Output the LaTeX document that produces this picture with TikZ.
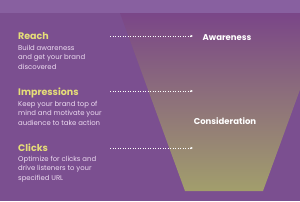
\documentclass[tikz,border=0pt]{standalone}
\usepackage{fontspec}
\setmainfont{Poppins}
\usetikzlibrary{arrows.meta}

\definecolor{bgpurple}{HTML}{7B4F90}
\definecolor{bandpurple}{HTML}{8860A0}
\definecolor{funtop}{HTML}{7A4688}
\definecolor{funmid}{HTML}{8A6C86}
\definecolor{funbot}{HTML}{A29E6C}
\definecolor{headyellow}{HTML}{E6DE78}
\definecolor{bodypink}{HTML}{EEDDF2}

\begin{document}
\begin{tikzpicture}[x=1pt, y=-1pt,
    head/.style={anchor=base west, inner sep=0pt, text=headyellow, font=\fontsize{9.5}{11}\selectfont\bfseries},
    body/.style={anchor=base west, inner sep=0pt, align=left, text=bodypink, font=\fontsize{6.9}{9.2}\selectfont},
    stage/.style={inner sep=0pt, text=white, font=\fontsize{8.5}{10}\selectfont\bfseries},
    lead/.style={draw=white, dotted, line width=0.5pt, -{Latex[length=2.5pt,width=2.5pt]}}]
    \useasboundingbox (0,0) rectangle (300,201);
    \clip (0,0) rectangle (300,201);

    % background and funnel
    \fill[bgpurple] (0,0) rectangle (300,201);
    \fill[bandpurple] (0,0) rectangle (300,13);
    \shade[top color=funtop, middle color=funmid, bottom color=funbot]
        (120,13) -- (328,13) -- (263,191) -- (185,191) -- cycle;

    % left column (body nodes sit on their last line)
    \node[head] (reach) at (18,39) {Reach};
    \node[body] (reachtxt) at (18,69) {Build awareness\\and get your brand\\discovered};
    \node[head] (impr) at (18,95) {Impressions};
    \node[body] (imprtxt) at (18,125) {Keep your brand top of\\mind and motivate your\\audience to take action};
    \node[head] (clicks) at (18,151) {Clicks};
    \node[body] (clickstxt) at (18,180) {Optimize for clicks and\\drive listeners to your\\specified URL};

    % funnel stages
    \node[stage] (aware) at (227,38) {Awareness};
    \node[stage] (consid) at (225,121) {Consideration};

    % dotted leaders
    \coordinate (reachfrom) at (110,36);
    \coordinate (reachto) at (193,36);
    \coordinate (imprfrom) at (110,91);
    \coordinate (imprto) at (193,91);
    \coordinate (clicksfrom) at (110,148);
    \coordinate (clicksto) at (193,148);
    \draw[lead] (reachfrom) -- (reachto);
    \draw[lead] (imprfrom) -- (imprto);
    \draw[lead] (clicksfrom) -- (clicksto);
\end{tikzpicture}
\end{document}
